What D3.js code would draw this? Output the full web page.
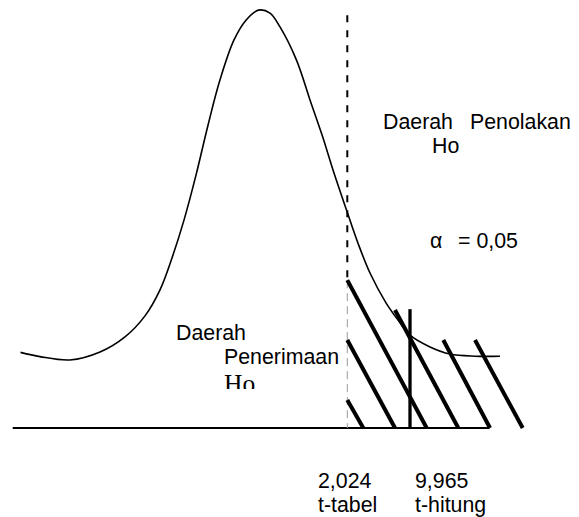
<!DOCTYPE html>
<html>
<head>
<meta charset="utf-8">
<script src="https://cdn.jsdelivr.net/npm/d3@7"></script>
<style>
  html, body { margin: 0; padding: 0; background: #fff; }
  svg { display: block; }
  text { font-family: "Liberation Sans", Arial, sans-serif; fill: #000; }
</style>
</head>
<body>
<svg id="chart" width="579" height="517"></svg>
<script>
// ---- data (schematic position units: x 0..100, density 0..100) ----
const curveX = [2.1, 6.0, 12.0, 18.0, 23.0, 27.0, 30.0, 32.4, 34.8, 37.2, 39.6, 42.0, 44.8, 47.2, 49.7, 52.0, 54.0, 57.3, 60.0, 62.4, 64.8, 67.3, 69.6, 72.0, 75.2, 77.6, 80.0, 84.0, 88.0, 93.0, 98.0];
const curveY = [18.0, 17.0, 16.2, 18.1, 21.7, 26.7, 32.9, 40.5, 49.5, 60.2, 72.1, 82.9, 92.4, 97.1, 99.5, 98.8, 95.5, 87.6, 78.1, 69.8, 60.7, 51.9, 44.0, 36.9, 29.8, 25.7, 22.1, 19.3, 17.6, 17.1, 17.1];

const hatchX1 = [67.46, 67.46, 67.46, 77.0, 86.66, 93.0];
const hatchY1 = [35.2, 20.95, 6.67, 28.1, 20.95, 20.95];
const hatchX2 = [83.34, 77.0, 70.66, 89.66, 96.0, 102.54];
const hatchY2 = [0, 0, 0, 0, 0, 0];

const axisStart = 0.54, axisEnd = 95.9;
const tTabelPos = 67.46, tTabelTop = 98.3;
const tHitungPos = 80.0, tHitungTop = 28.3;

const criticalValues = ["2,024", "9,965"];
const criticalNames = ["t-tabel", "t-hitung"];
const alphaText = ["α", "= 0,05"];

// ---- scales ----
const x = d3.scaleLinear().domain([0, 100]).range([10, 510]);
const y = d3.scaleLinear().domain([0, 100]).range([428, 8]);

const svg = d3.select("#chart");

// baseline
svg.append("line")
  .attr("x1", x(axisStart)).attr("x2", x(axisEnd))
  .attr("y1", y(0)).attr("y2", y(0))
  .attr("stroke", "#000").attr("stroke-width", 2);

// t-tabel dashed line (black upper part, grey within hatched area)
svg.append("line")
  .attr("x1", x(tTabelPos)).attr("x2", x(tTabelPos))
  .attr("y1", y(tTabelTop)).attr("y2", y(hatchY1[0]))
  .attr("stroke", "#000").attr("stroke-width", 2)
  .attr("stroke-dasharray", "7,8");
svg.append("line")
  .attr("x1", x(tTabelPos)).attr("x2", x(tTabelPos))
  .attr("y1", y(hatchY1[0])).attr("y2", y(0))
  .attr("stroke", "#9a9a9a").attr("stroke-width", 1)
  .attr("stroke-dasharray", "8,5");

// curve
const pts = curveX.map((v, i) => [v, curveY[i]]);
svg.append("path")
  .datum(pts)
  .attr("fill", "none")
  .attr("stroke", "#000")
  .attr("stroke-width", 1.6)
  .attr("d", d3.line().x(d => x(d[0])).y(d => y(d[1])).curve(d3.curveCatmullRom.alpha(0.5)));

// hatch lines
svg.selectAll(".hatch")
  .data(hatchX1.map((v, i) => ({x1: v, y1: hatchY1[i], x2: hatchX2[i], y2: hatchY2[i]})))
  .join("line")
  .attr("class", "hatch")
  .attr("x1", d => x(d.x1)).attr("y1", d => y(d.y1))
  .attr("x2", d => x(d.x2)).attr("y2", d => y(d.y2))
  .attr("stroke", "#000").attr("stroke-width", 4);

// t-hitung thick line
svg.append("line")
  .attr("x1", x(tHitungPos)).attr("x2", x(tHitungPos))
  .attr("y1", y(tHitungTop)).attr("y2", y(0))
  .attr("stroke", "#000").attr("stroke-width", 3.3);

// ---- texts ----
const fs = "21.33px";
function txt(s, px, py) {
  return svg.append("text").attr("x", px).attr("y", py).style("font-size", fs).text(s);
}
txt("Daerah", 383, 129);
txt("Penolakan", 470, 129);
txt("Ho", 432, 153);

txt(alphaText[0], 430, 248);
txt(alphaText[1], 458, 248);

txt("Daerah", 176, 340);
txt("Penerimaan", 224, 364);

svg.append("clipPath").attr("id", "hoclip")
  .append("rect").attr("x", 200).attr("y", 365).attr("width", 100).attr("height", 24);
svg.append("text")
  .attr("x", 224).attr("y", 392)
  .attr("clip-path", "url(#hoclip)")
  .style("font-family", "'Liberation Serif', 'Times New Roman', serif")
  .style("font-size", "25.5px")
  .text("Ho");

// critical value labels
const labelX = [318, 415];
criticalValues.forEach((v, i) => {
  txt(v, labelX[i], 488);
  txt(criticalNames[i], labelX[i], 512);
});
</script>
</body>
</html>
